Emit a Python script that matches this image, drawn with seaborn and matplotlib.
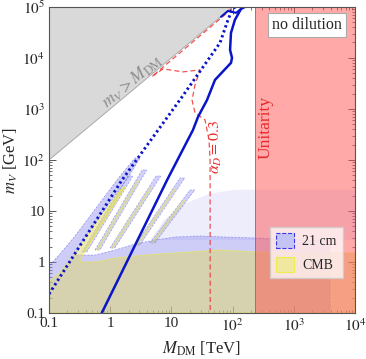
import matplotlib
matplotlib.use("Agg")
import matplotlib.pyplot as plt
import seaborn as sns
from matplotlib.patches import Patch
from matplotlib.ticker import FixedLocator, FixedFormatter, LogLocator, NullFormatter

# m_V > M_DM boundary (M_DM in TeV, m_V in GeV)
diag_x = [0.1, 100.0]
diag_y = [100.0, 1e5]

unitarity_x = 235.0

# blue dotted curve
dotted_x = [0.1, 1.56, 14.9, 62.2, 84.0, 97.7, 110.0]
dotted_y = [0.236, 40.6, 1718, 19700, 55600, 87000, 1e5]

# blue solid curve
solid_x = [0.726, 8.5, 22.5, 27.2, 38.2, 51.5, 94.0, 97.7, 90.8, 94.0, 109.0, 137.0, 160.0]
solid_y = [0.1, 40.5, 387, 697, 1500, 3700, 7980, 10000, 14350, 30900, 55600, 91000, 1e5]
hook_x = [64.6, 84.0, 114.0, 137.0]
hook_y = [63700, 83200, 76200, 91000]

# alpha_D = 0.3 contour
alpha_x = [98.0, 4.8, 7.3, 15.5, 29.3, 24.3, 21.7, 24.3, 35.4, 41.1, 42.8, 43.0]
alpha_y = [9.2e4, 4300, 6080, 5310, 5820, 2950, 1500, 835, 608, 247, 100, 0.1]

# 21 cm excluded region
cm21_x = [0.1, 0.1, 0.151, 0.266, 0.468, 0.822, 1.45, 2.54, 3.07, 1.95, 1.07, 0.586,
          0.346, 0.266, 0.565, 1.2, 2.54, 5.4, 11.5, 29.3, 75.2, 232, 1262, 3900, 3900]
cm21_y = [0.1, 0.836, 1.44, 3.24, 7.98, 19.7, 48.5, 109, 109, 44.4, 16.4, 6.08,
          2.47, 1.37, 1.37, 1.72, 2.25, 2.70, 3.09, 3.24, 3.09, 2.96, 2.70, 2.70, 0.1]

# CMB excluded region
cmb_x = [0.1, 0.1, 0.151, 0.266, 0.468, 0.822, 1.45, 1.81, 1.11, 0.63, 0.373, 0.321,
         0.565, 1.2, 2.54, 6.51, 20.1, 62.2, 232, 1262, 1e4, 1e4]
cmb_y = [0.1, 0.405, 0.637, 1.44, 3.87, 10.0, 25.8, 30.9, 12.0, 4.24, 1.57, 1.0,
         1.0, 1.2, 1.31, 1.44, 1.57, 1.72, 1.57, 1.5, 1.5, 0.1]

# diagonal stripes
stripe_base_x = [0.346, 0.565, 0.99, 2.54, 4.47]
stripe_base_y = [1.57, 1.72, 1.88, 2.15, 2.36]
stripe_tip_x = [1.95, 3.31, 5.6, 13.8, 20.1]
stripe_tip_y = [48.5, 63.7, 48.5, 44.4, 25.8]
cmb_tip_x = [1.5, 2.6, 4.3, 10.5, 15.0]
cmb_tip_y = [28.7, 38.7, 29.5, 27.1, 16.2]

# speckled fringe above the main body
fringe_x = [4.47, 7.85, 16.7, 42.8, 109, 1e4, 1e4]
fringe_y = [2.7, 7.0, 14.0, 22.0, 26.0, 26.0, 2.7]

x_ticks = [0.1, 1, 10, 100, 1000, 1e4]
x_labels = ["0.1", "1", "10", "$10^2$", "$10^3$", "$10^4$"]
y_ticks = [0.1, 1, 10, 100, 1000, 1e4, 1e5]
y_labels = ["0.1", "1", "10", "$10^2$", "$10^3$", "$10^4$", "$10^5$"]

sns.set_style("ticks")
plt.rcParams["font.family"] = ["Liberation Serif", "DejaVu Serif"]
plt.rcParams["mathtext.fontset"] = "stix"

c21_face = "#9090f0"
c21_edge = "#3a3aee"
cmb_face = "#dfd768"
cmb_edge = "#eded40"

fig = plt.figure(figsize=(3.66, 3.59), dpi=100)
ax = fig.add_axes([0.134, 0.128, 0.836, 0.853])
ax.set_xscale("log")
ax.set_yscale("log")
ax.set_xlim(0.1, 1e4)
ax.set_ylim(0.1, 1e5)

# 21 cm
ax.fill(cm21_x, cm21_y, facecolor=c21_face, alpha=0.45, lw=0)
ax.fill(cm21_x, cm21_y, facecolor="none", edgecolor=c21_edge, lw=0.5, ls=(0, (3, 2)), alpha=0.5)
for xb, yb, xt, yt in zip(stripe_base_x, stripe_base_y, stripe_tip_x, stripe_tip_y):
    px = [xb, xt, xt * 1.2, xb * 1.2]
    py = [yb, yt, yt, yb]
    ax.fill(px, py, facecolor=c21_face, alpha=0.4, lw=0)
    ax.fill(px, py, facecolor="none", edgecolor=c21_edge, lw=0.5, ls=(0, (3, 2)), alpha=0.45)
ax.fill(fringe_x, fringe_y, facecolor=c21_face, alpha=0.16, lw=0)

# CMB
ax.fill(cmb_x, cmb_y, facecolor=cmb_face, alpha=0.5, edgecolor=cmb_edge, lw=0.8)
for xb, yb, xt, yt in zip(stripe_base_x, stripe_base_y, cmb_tip_x, cmb_tip_y):
    ax.fill([xb * 1.04, xt * 1.04, xt * 1.13, xb * 1.13], [yb, yt, yt, yb],
            facecolor=cmb_face, alpha=0.35, edgecolor=cmb_edge, lw=0.7)

# m_V > M_DM region
ax.fill([diag_x[0], diag_x[1], diag_x[0]], [diag_y[0], diag_y[1], diag_y[1]],
        facecolor="#d9d9d9", edgecolor="#aaaaaa", lw=0.7, zorder=2)

# unitarity
ax.axvspan(unitarity_x, 1e4, facecolor="#ff5555", alpha=0.5, lw=0, zorder=3)
ax.axvline(unitarity_x, color="#ee4444", lw=0.6, zorder=3)

# curves
sns.lineplot(x=alpha_x, y=alpha_y, sort=False, estimator=None, ax=ax, color="#ee3333",
             lw=0.9, linestyle=(0, (4, 2.5)), alpha=0.85, zorder=4)
sns.lineplot(x=dotted_x, y=dotted_y, sort=False, estimator=None, ax=ax, color="#0a14c8",
             lw=2.1, linestyle=(0, (0.8, 1.0)), zorder=5)
sns.lineplot(x=solid_x, y=solid_y, sort=False, estimator=None, ax=ax, color="#0a14c8",
             lw=1.8, zorder=5)
sns.lineplot(x=hook_x, y=hook_y, sort=False, estimator=None, ax=ax, color="#0a14c8",
             lw=1.5, zorder=5)

# labels inside the plot
ax.text(2.3, 3500, r"$m_V > M_{\rm DM}$", color="#8c8c8c", fontsize=12.5,
        rotation=39.8, ha="center", va="center", zorder=6)
ax.text(352, 443, "Unitarity", color="#e8262a", fontsize=12.5, rotation=90,
        ha="center", va="center", zorder=6)
ax.text(53.6, 180, r"$\alpha_D = 0.3$", color="#ee2a2a", fontsize=11.5, rotation=90,
        ha="center", va="center", zorder=6)
ax.text(0.843, 0.941, "no dilution", transform=ax.transAxes, fontsize=11.5,
        ha="center", va="center", zorder=7,
        bbox=dict(boxstyle="square,pad=0.25", facecolor="white", edgecolor="#aaaaaa", lw=0.8))

handles = [Patch(facecolor="#c4c4f4", edgecolor="#3a3aee", linestyle="--", lw=0.8, label="21 cm"),
           Patch(facecolor="#f0e8a0", edgecolor="#eded50", lw=0.8, label="CMB")]
leg = ax.legend(handles=handles, loc="center", bbox_to_anchor=(0.841, 0.198), fontsize=10,
                frameon=True, fancybox=False, edgecolor="#cccccc", facecolor="white",
                framealpha=0.75, handlelength=1.3, handleheight=1.3, borderpad=0.45,
                labelspacing=0.6, handletextpad=0.6)
leg.set_zorder(8)

ax.xaxis.set_major_locator(FixedLocator(x_ticks))
ax.xaxis.set_major_formatter(FixedFormatter(x_labels))
ax.yaxis.set_major_locator(FixedLocator(y_ticks))
ax.yaxis.set_major_formatter(FixedFormatter(y_labels))
ax.xaxis.set_minor_locator(LogLocator(base=10, subs=range(2, 10), numticks=20))
ax.yaxis.set_minor_locator(LogLocator(base=10, subs=range(2, 10), numticks=20))
ax.xaxis.set_minor_formatter(NullFormatter())
ax.yaxis.set_minor_formatter(NullFormatter())
ax.tick_params(which="both", direction="in", top=True, right=True, color="#555555",
               labelsize=11, pad=3)
ax.tick_params(which="major", length=5, width=0.7)
ax.tick_params(which="minor", length=2.5, width=0.6)
for s in ax.spines.values():
    s.set_color("#555555")
    s.set_linewidth(0.8)
    s.set_zorder(10)

ax.set_xlabel(r"$M_{\rm DM}$ [TeV]", fontsize=12, labelpad=4)
ax.set_ylabel(r"$m_V$ [GeV]", fontsize=12, labelpad=2)

fig.savefig("out.png", dpi=100)
